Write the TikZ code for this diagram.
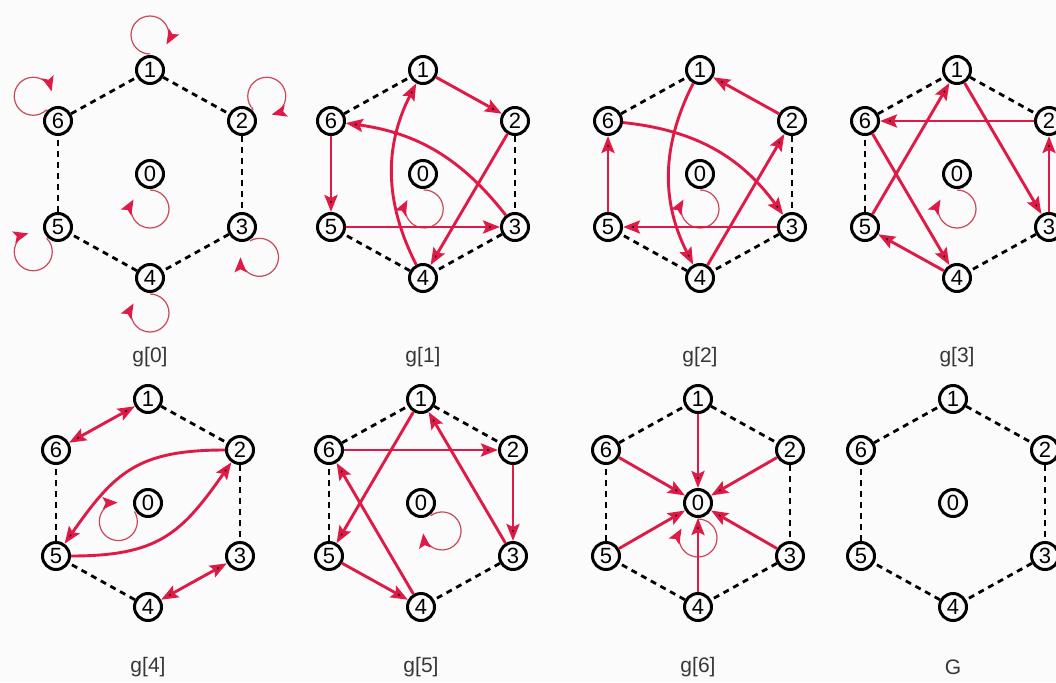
\documentclass[tikz,border=0pt]{standalone}
\usepackage{fontspec}
\setmainfont{Liberation Sans}
\usetikzlibrary{arrows.meta}

\definecolor{crimson}{RGB}{224,26,70}
\definecolor{loopred}{RGB}{204,72,88}
\definecolor{captiongray}{RGB}{55,55,55}
\definecolor{paper}{RGB}{251,251,251}

\tikzset{
  vertex/.style={circle,draw,fill=paper,line width=3pt,minimum size=27pt,inner sep=0pt,font=\fontsize{22}{22}\selectfont},
  rim/.style={line width=2.8pt,dash pattern=on 6pt off 5pt},
  redline/.style={draw=crimson,line width=2.9pt},
  selfloop/.style={draw=loopred,line width=1.2pt,-{Stealth[length=15pt,width=12pt,inset=3pt,color=crimson]}},
  panelname/.style={text=captiongray,font=\fontsize{21}{21}\selectfont},
}

\newcommand\hexgraph[3]{%
  \node[vertex] (#1-0) at (#2,#3) {0};
  \foreach \i/\dx/\dy in {1/0/104,2/92/53,3/92/-53,4/0/-104,5/-92/-53,6/-92/53}
    \node[vertex] (#1-\i) at (#2+\dx,#3+\dy) {\i};
}
\newcommand\hexrim[2]{\foreach \u/\v in {#2} \draw[rim] (#1-\u) -- (#1-\v);}
\newcommand\nodeloop[2]{\draw[selfloop] ([shift={(#2:16)}]#1.center) arc[start angle=#2+180,delta angle=-300,radius=19];}

\begin{document}
\begin{tikzpicture}[x=1pt,y=1pt,>={Stealth[length=17pt,width=13pt,inset=3pt]}]
\fill[paper] (0,0) rectangle (1056,-682);
\useasboundingbox (0,0) rectangle (1056,-682);

\hexgraph{g0}{150}{-174}
\hexgraph{g1}{423}{-174}
\hexgraph{g2}{700}{-174}
\hexgraph{g3}{957}{-174}
\hexgraph{g4}{148}{-503}
\hexgraph{g5}{421}{-503}
\hexgraph{g6}{698}{-503}
\hexgraph{G}{953}{-503}

\node[panelname] (cap0) at (150,-357) {g[0]};
\node[panelname] (cap1) at (423,-357) {g[1]};
\node[panelname] (cap2) at (700,-357) {g[2]};
\node[panelname] (cap3) at (957,-357) {g[3]};
\node[panelname] (cap4) at (148,-667) {g[4]};
\node[panelname] (cap5) at (421,-667) {g[5]};
\node[panelname] (cap6) at (698,-667) {g[6]};
\node[panelname] (cap7) at (953,-667) {G};

\hexrim{g0}{1/2,2/3,3/4,4/5,5/6,6/1}
\hexrim{g1}{6/1,2/3,3/4,4/5}
\hexrim{g2}{6/1,2/3,3/4,4/5}
\hexrim{g3}{6/1,1/2,3/4,5/6}
\hexrim{g4}{1/2,2/3,4/5,5/6}
\hexrim{g5}{6/1,1/2,3/4,5/6}
\hexrim{g6}{1/2,2/3,3/4,4/5,5/6,6/1}
\hexrim{G}{1/2,2/3,3/4,4/5,5/6,6/1}

\nodeloop{g0-1}{90}
\nodeloop{g0-2}{45}
\nodeloop{g0-3}{-60}
\nodeloop{g0-4}{-90}
\nodeloop{g0-5}{-135}
\nodeloop{g0-6}{135}
\nodeloop{g0-0}{-90}
\nodeloop{g1-0}{-88}
\nodeloop{g2-0}{-90}
\nodeloop{g3-0}{-90}
\nodeloop{g4-0}{-148}
\nodeloop{g5-0}{-53}
\nodeloop{g6-0}{-90}

\draw[redline,->]
(g1-1) edge (g1-2)
(g1-2) edge (g1-4)
(g1-4) edge[bend left=27] (g1-1)
(g1-3) edge[bend right=22] (g1-6)
(g1-6) edge (g1-5)
(g1-5) edge (g1-3)

(g2-2) edge (g2-1)
(g2-1) edge[bend right=27] (g2-4)
(g2-6) edge[bend left=24] (g2-3)
(g2-5) edge (g2-6)
(g2-3) edge (g2-5)
(g2-4) edge (g2-2)

(g3-2) edge (g3-6)
(g3-1) edge (g3-3)
(g3-3) edge (g3-2)
(g3-5) edge (g3-1)
(g3-6) edge (g3-4)
(g3-4) edge (g3-5)

(g4-1) edge[<->] (g4-6)
(g4-3) edge[<->] (g4-4)
(g4-2) edge[out=180,in=55,looseness=1.2] (g4-5)
(g4-5) edge[out=0,in=235,looseness=1.2] (g4-2)

(g5-6) edge (g5-2)
(g5-2) edge (g5-3)
(g5-3) edge (g5-1)
(g5-1) edge (g5-5)
(g5-5) edge (g5-4)
(g5-4) edge (g5-6)
;
\draw[redline,->] \foreach \i in {1,...,6} {(g6-\i) edge (g6-0)};
\end{tikzpicture}
\end{document}
